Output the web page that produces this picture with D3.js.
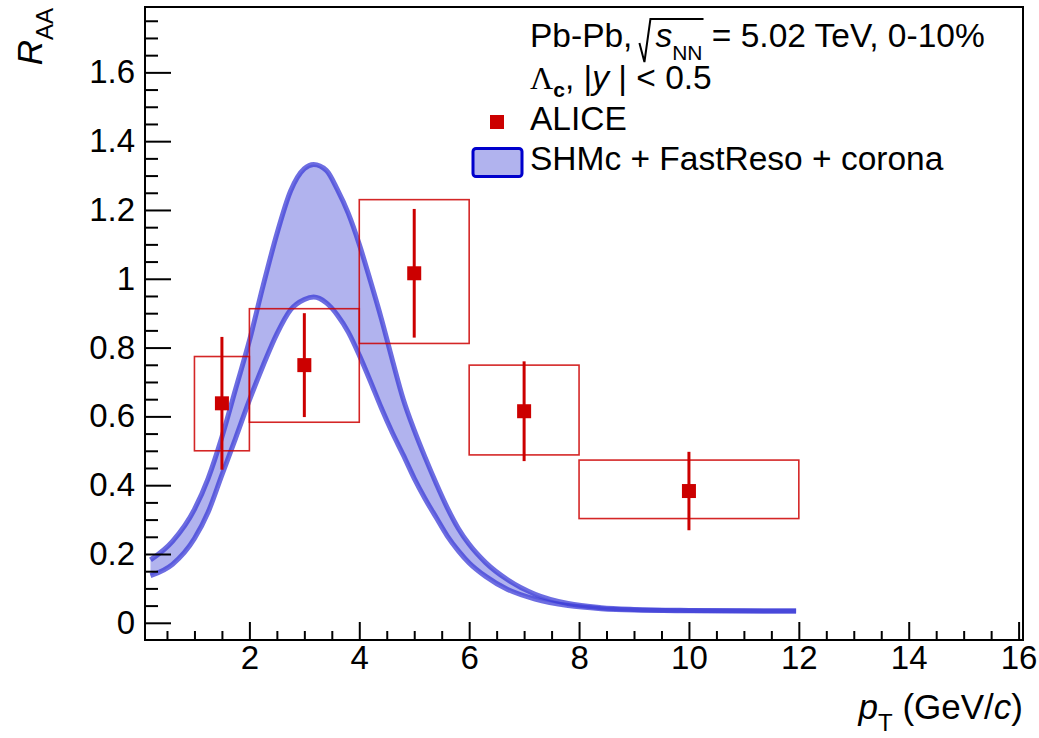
<!DOCTYPE html>
<html>
<head>
<meta charset="utf-8">
<script src="https://cdn.jsdelivr.net/npm/d3@7"></script>
<style>
  body { margin: 0; background: #fff; }
  svg { display: block; font-family: "Liberation Sans", Arial, Helvetica, sans-serif; }
</style>
</head>
<body>
<div id="chart"></div>
<script>
// ALICE Lambda_c R_AA points
var ptCenter = [1.5, 3, 5, 7, 10];
var binLo    = [1, 2, 4, 6, 8];
var binHi    = [2, 4, 6, 8, 12];
var raa      = [0.638, 0.749, 1.016, 0.615, 0.383];
var statErr  = [0.193, 0.151, 0.187, 0.145, 0.114];
var systUp   = [0.136, 0.164, 0.214, 0.134, 0.090];
var systDn   = [0.138, 0.166, 0.204, 0.127, 0.080];

// SHMc + FastReso + corona band
var modelPt = [0.2, 0.6, 1.0, 1.25, 1.5, 1.75, 2.0, 2.25, 2.5, 2.75, 3.0, 3.17, 3.4, 3.6, 3.8,
               4.0, 4.2, 4.4, 4.6, 4.8, 5.0, 5.2, 5.4, 5.6, 5.8, 6.0, 6.3, 6.7, 7.2, 7.8,
               8.4, 9.0, 10, 11, 11.95];
var modelHi = [0.183, 0.237, 0.330, 0.420, 0.540, 0.680, 0.820, 0.980, 1.130, 1.255, 1.320, 1.332, 1.315, 1.260, 1.190,
               1.100, 0.995, 0.885, 0.765, 0.650, 0.560, 0.480, 0.405, 0.335, 0.275, 0.228, 0.175, 0.125, 0.083, 0.056,
               0.044, 0.039, 0.036, 0.035, 0.034];
var modelLo = [0.137, 0.170, 0.245, 0.322, 0.430, 0.537, 0.647, 0.748, 0.840, 0.910, 0.940, 0.947, 0.930, 0.895, 0.845,
               0.778, 0.703, 0.625, 0.553, 0.488, 0.420, 0.360, 0.306, 0.253, 0.210, 0.174, 0.135, 0.097, 0.069, 0.050,
               0.041, 0.037, 0.035, 0.034, 0.034];

// ticks
var xTicks = [2, 4, 6, 8, 10, 12, 14, 16];
var yTicks = [0, 0.2, 0.4, 0.6, 0.8, 1, 1.2, 1.4, 1.6];

var W = 1039, H = 738;
var margin = {top: 7, left: 145, right: 16, bottom: 98};
var width = W - margin.left - margin.right,
    height = H - margin.top - margin.bottom;

var x = d3.scaleLinear().domain([0.1, 16.08]).range([0, width]);
var y = d3.scaleLinear().domain([-0.05, 1.79]).range([height, 0]);

var svg = d3.select("#chart").append("svg")
    .attr("width", W)
    .attr("height", H);

var g = svg.append("g")
    .attr("transform", "translate(" + margin.left + "," + margin.top + ")");

var red = "#cc0000";
var bandFill = "#b1b3ee";
var bandLine = "rgba(60,60,215,0.75)";

// model band
var model = modelPt.map(function(p, i) { return {pt: p, lo: modelLo[i], hi: modelHi[i]}; });

g.append("path")
    .datum(model)
    .attr("fill", bandFill)
    .attr("d", d3.area()
      .curve(d3.curveMonotoneX)
      .x(function(d) { return x(d.pt); })
      .y0(function(d) { return y(d.lo); })
      .y1(function(d) { return y(d.hi); }));

["hi", "lo"].forEach(function(k) {
  g.append("path")
      .datum(model)
      .attr("fill", "none")
      .attr("stroke", bandLine)
      .attr("stroke-width", 5)
      .attr("d", d3.line()
        .curve(d3.curveMonotoneX)
        .x(function(d) { return x(d.pt); })
        .y(function(d) { return y(d[k]); }));
});

// data
var data = ptCenter.map(function(p, i) {
  return {pt: p, lo: binLo[i], hi: binHi[i], v: raa[i], stat: statErr[i], su: systUp[i], sd: systDn[i]};
});

g.selectAll(".syst")
    .data(data)
  .enter().append("rect")
    .attr("class", "syst")
    .attr("x", function(d) { return x(d.lo); })
    .attr("width", function(d) { return x(d.hi) - x(d.lo); })
    .attr("y", function(d) { return y(d.v + d.su); })
    .attr("height", function(d) { return y(d.v - d.sd) - y(d.v + d.su); })
    .attr("fill", "none")
    .attr("stroke", red)
    .attr("stroke-opacity", 0.85)
    .attr("stroke-width", 1.6);

g.selectAll(".stat")
    .data(data)
  .enter().append("line")
    .attr("class", "stat")
    .attr("x1", function(d) { return x(d.pt); })
    .attr("x2", function(d) { return x(d.pt); })
    .attr("y1", function(d) { return y(d.v + d.stat); })
    .attr("y2", function(d) { return y(d.v - d.stat); })
    .attr("stroke", red)
    .attr("stroke-width", 3);

g.selectAll(".marker")
    .data(data)
  .enter().append("rect")
    .attr("class", "marker")
    .attr("x", function(d) { return x(d.pt) - 7; })
    .attr("y", function(d) { return y(d.v) - 7; })
    .attr("width", 14)
    .attr("height", 14)
    .attr("fill", red);

// axes (ROOT style, ticks inside)
var yMinor = d3.range(0, 1.7901, 0.05).filter(function(v) { return Math.abs(v / 0.2 - Math.round(v / 0.2)) > 1e-6; });
var xMinor = d3.range(0.5, 16.01, 0.5).filter(function(v) { return Math.abs(v / 2 - Math.round(v / 2)) > 1e-6; });

g.append("g")
    .attr("class", "axis")
    .call(d3.axisLeft(y).tickValues(yMinor).tickSize(-13).tickFormat(""));
g.append("g")
    .attr("class", "axis")
    .call(d3.axisLeft(y).tickValues(yTicks).tickSize(-26).tickPadding(10)
      .tickFormat(function(d) { return d3.format("")(+d.toFixed(1)); }));

g.append("g")
    .attr("class", "axis")
    .attr("transform", "translate(0," + height + ")")
    .call(d3.axisBottom(x).tickValues(xMinor).tickSize(-9).tickFormat(""));
g.append("g")
    .attr("class", "axis")
    .attr("transform", "translate(0," + height + ")")
    .call(d3.axisBottom(x).tickValues(xTicks).tickSize(-18).tickPadding(6).tickFormat(d3.format("d")));

g.selectAll(".axis .domain").remove();
g.selectAll(".axis line").attr("stroke", "#000").attr("stroke-width", 2);
g.selectAll(".axis text").attr("font-size", 33).attr("fill", "#000")
    .attr("font-family", "'Liberation Sans', Arial, sans-serif");

// frame
g.append("rect")
    .attr("width", width)
    .attr("height", height)
    .attr("fill", "none")
    .attr("stroke", "#000")
    .attr("stroke-width", 2);

// axis titles
var yt = svg.append("text")
    .attr("transform", "translate(42,8) rotate(-90)")
    .attr("text-anchor", "end")
    .attr("font-size", 35);
yt.append("tspan").attr("font-style", "italic").text("R");
yt.append("tspan").attr("font-size", 24).attr("dy", 11).text("AA");

var xt = svg.append("text")
    .attr("x", margin.left + width)
    .attr("y", 719)
    .attr("text-anchor", "end")
    .attr("font-size", 35);
xt.append("tspan").attr("font-style", "italic").text("p");
xt.append("tspan").attr("font-size", 24).attr("dy", 12).text("T");
xt.append("tspan").attr("dy", -12).text(" (GeV/");
xt.append("tspan").attr("font-style", "italic").text("c");
xt.append("tspan").text(")");

// legend text, laid out piece by piece
function pieces(x0, base, list) {
  var cx = x0, pos = [];
  list.forEach(function(p) {
    if (p.gap) { pos.push(cx); cx += p.gap; return; }
    var t = svg.append("text")
        .attr("x", cx)
        .attr("y", base + (p.dy || 0))
        .attr("font-size", p.size || 33.5)
        .attr("font-style", p.italic ? "italic" : null)
        .attr("font-weight", p.bold ? "bold" : null)
        .attr("font-family", p.serif ? "'Liberation Serif', 'DejaVu Serif', serif" : null)
        .style("white-space", "pre")
        .text(p.t);
    pos.push(cx);
    cx += t.node().getComputedTextLength();
  });
  pos.push(cx);
  return pos;
}

var lx = 530;
var p1 = pieces(lx, 47, [
  {t: "Pb-Pb,"},
  {gap: 23},
  {t: "s", italic: true},
  {t: "NN", size: 21, dy: 13},
  {t: " = 5.02 TeV, 0-10%"}
]);
// radical sign
var rx = p1[1] + 7;
svg.append("path")
    .attr("d", "M" + rx + ",43 L" + (rx + 5) + ",62 L" + (rx + 11) + ",19 L" + (p1[4] + 1) + ",19")
    .attr("fill", "none")
    .attr("stroke", "#000")
    .attr("stroke-width", 2);

pieces(lx, 89, [
  {t: "\u039b", serif: true, size: 32},
  {t: "c", size: 21, bold: true, dy: 8},
  {t: ", |"},
  {t: "y", italic: true},
  {t: " | < 0.5"}
]);

svg.append("text").attr("x", lx).attr("y", 130).attr("font-size", 33.5).text("ALICE");
svg.append("rect")
    .attr("x", 490).attr("y", 115).attr("width", 14).attr("height", 14)
    .attr("fill", red);

svg.append("text").attr("x", lx).attr("y", 170).attr("font-size", 33.5).text("SHMc + FastReso + corona");
svg.append("rect")
    .attr("x", 473).attr("y", 148.5).attr("width", 49).attr("height", 28)
    .attr("rx", 3)
    .attr("fill", bandFill)
    .attr("stroke", "#0000cc")
    .attr("stroke-width", 3);
</script>
</body>
</html>
